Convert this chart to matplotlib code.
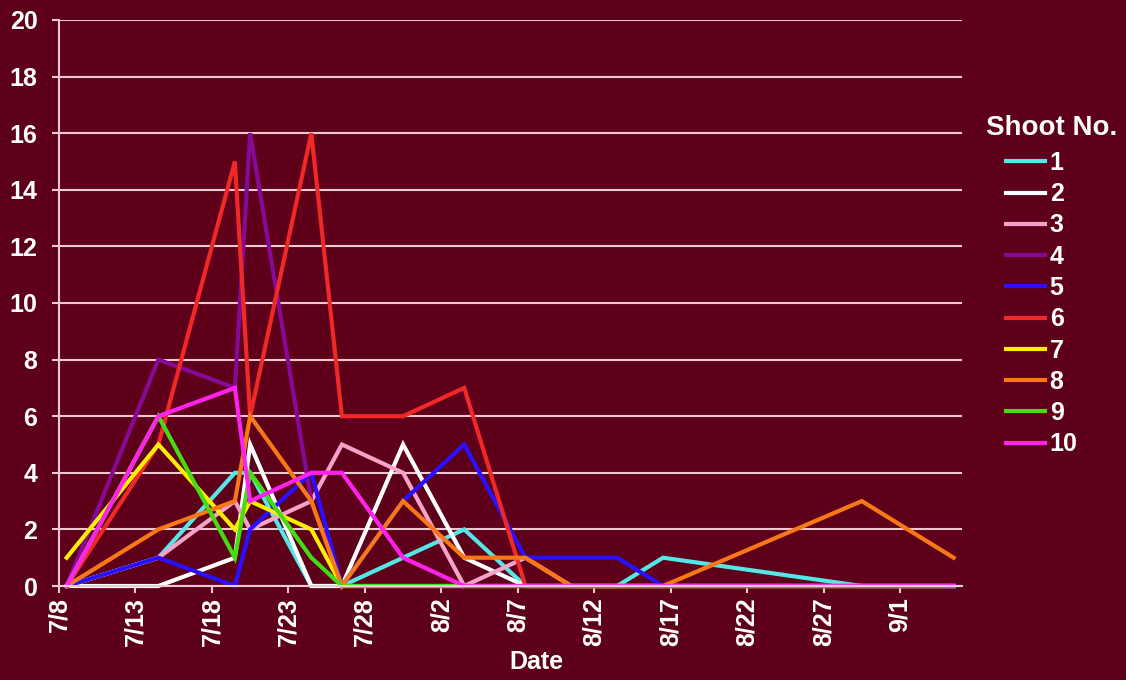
import matplotlib.pyplot as plt
import pandas as pd

# sampling dates (month/day) and counts per shoot
dates = ['7/8', '7/14', '7/19', '7/20', '7/24', '7/26', '7/30',
         '8/3', '8/7', '8/10', '8/13', '8/16', '8/29', '9/4']

shoot_1 = [0, 1, 4, 4, 0, 0, 1, 2, 0, 0, 0, 1, 0, 0]
shoot_2 = [0, 0, 1, 5, 0, 0, 5, 1, 0, 0, 0, 0, 0, 0]
shoot_3 = [0, 1, 3, 2, 3, 5, 4, 0, 1, 0, 0, 0, 0, 0]
shoot_4 = [0, 8, 7, 16, 3, 0, 0, 0, 0, 0, 0, 0, 0, 0]
shoot_5 = [0, 1, 0, 2, 4, 0, 3, 5, 1, 1, 1, 0, 0, 0]
shoot_6 = [0, 5, 15, 6, 16, 6, 6, 7, 0, 0, 0, 0, 0, 0]
shoot_7 = [1, 5, 2, 3, 2, 0, 0, 0, 0, 0, 0, 0, 0, 0]
shoot_8 = [0, 2, 3, 6, 3, 0, 3, 1, 1, 0, 0, 0, 3, 1]
shoot_9 = [0, 6, 1, 4, 1, 0, 0, 0, 0, 0, 0, 0, 0, 0]
shoot_10 = [0, 6, 7, 3, 4, 4, 1, 0, 0, 0, 0, 0, 0, 0]

series = [shoot_1, shoot_2, shoot_3, shoot_4, shoot_5,
          shoot_6, shoot_7, shoot_8, shoot_9, shoot_10]
names = [str(i) for i in range(1, 11)]
colors = ['#55e6e6', '#ffffff', '#f7a2c8', '#870a96', '#2a10ff',
          '#f02828', '#ffee00', '#f87818', '#44dd11', '#ff22ee']

bg = '#5e0019'
grid_c = '#efc9d2'
W, H = 1126, 680

fig = plt.figure(figsize=(W / 100, H / 100), dpi=100)
fig.patch.set_facecolor(bg)
ax = fig.add_axes([59 / W, 94 / H, 903 / W, 566 / H])
ax.set_facecolor(bg)

# Excel puts each day's point in the middle of the day slot
x = pd.to_datetime(['2009/' + d for d in dates], format='%Y/%m/%d') + pd.Timedelta(hours=12)

for vals, name, c in zip(series, names, colors):
    ax.plot(x, vals, color=c, lw=3, label=name, clip_on=False, solid_joinstyle='miter')

start = pd.Timestamp('2009-07-08')
ax.set_xlim(start, start + pd.Timedelta(days=59.05))
ax.set_ylim(0, 20)

tick_dates = pd.date_range('2009-07-08', '2009-09-01', freq='5D')
ax.set_xticks(tick_dates)
ax.set_xticklabels([f'{d.month}/{d.day}' for d in tick_dates], rotation=90)
ax.set_yticks(range(0, 21, 2))

ax.yaxis.grid(True, color=grid_c, lw=1.5)
ax.set_axisbelow(True)
for s in ['top', 'right']:
    ax.spines[s].set_visible(False)
for s in ['left', 'bottom']:
    ax.spines[s].set_color(grid_c)
    ax.spines[s].set_linewidth(1.5)

font = 'Liberation Sans'
ax.tick_params(axis='y', length=5, width=1.5, color=grid_c, pad=10.5,
               labelcolor='white', labelsize=18)
ax.tick_params(axis='x', length=5, width=1.5, color=grid_c, pad=3,
               labelcolor='white', labelsize=18)
for lab in ax.get_xticklabels() + ax.get_yticklabels():
    lab.set_fontfamily(font)
    lab.set_fontweight('bold')

fig.text(536 / W, 1 - 662 / H, 'Date', ha='center', va='center', color='white',
         fontsize=18, fontweight='bold', family=font)

fig.text(1052 / W, 1 - 128 / H, 'Shoot No.', ha='center', va='center', color='white',
         fontsize=20, fontweight='bold', family=font)
leg = fig.legend(loc='upper left', bbox_to_anchor=(1006 / W, 1 - 151 / H),
                 frameon=False, borderpad=0, borderaxespad=0,
                 handlelength=1.55, handletextpad=0.2, labelspacing=0.29,
                 prop={'family': font, 'weight': 'bold', 'size': 18},
                 labelcolor='white')
for h in leg.get_lines():
    h.set_linewidth(3)

fig.savefig('out.png', dpi=100, facecolor=bg)
